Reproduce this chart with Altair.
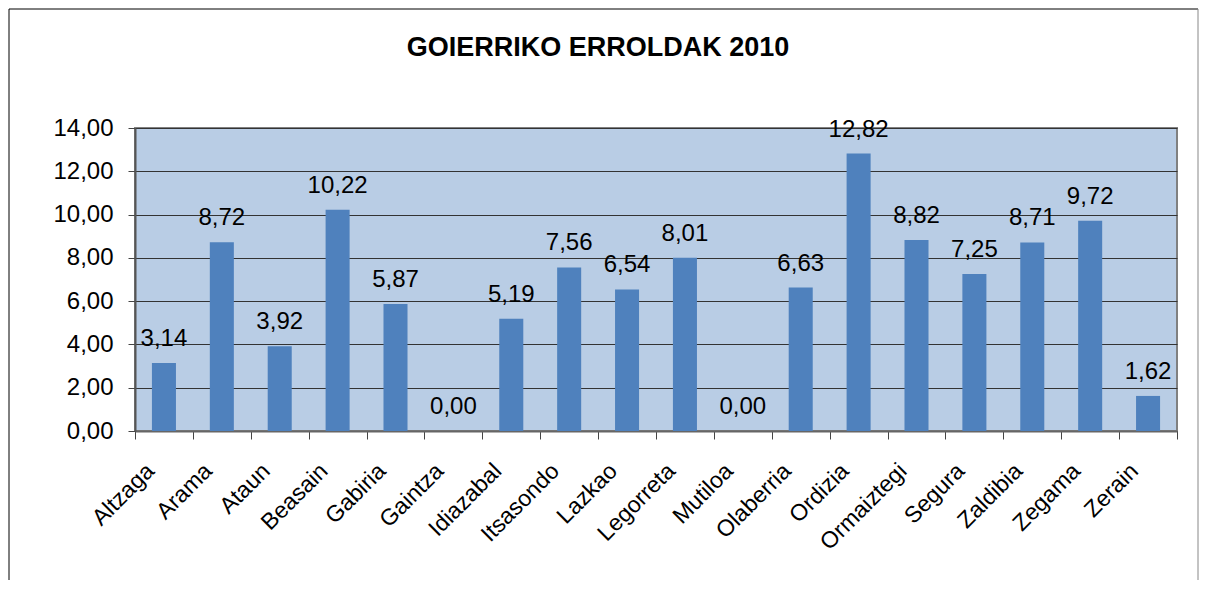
import altair as alt
import pandas as pd

towns = ["Altzaga", "Arama", "Ataun", "Beasain", "Gabiria", "Gaintza", "Idiazabal",
         "Itsasondo", "Lazkao", "Legorreta", "Mutiloa", "Olaberria", "Ordizia",
         "Ormaiztegi", "Segura", "Zaldibia", "Zegama", "Zerain"]
values = [3.14, 8.72, 3.92, 10.22, 5.87, 0.00, 5.19, 7.56, 6.54, 8.01, 0.00,
          6.63, 12.82, 8.82, 7.25, 8.71, 9.72, 1.62]
y_ticks = [0, 2, 4, 6, 8, 10, 12, 14]
title_text = "GOIERRIKO ERROLDAK 2010"

df = pd.DataFrame({"town": towns, "value": values})
df["label"] = [f"{v:.2f}".replace(".", ",") for v in values]

FONT = "Liberation Sans"
W, H = 1042, 303

x_enc = alt.X(
    "town:N", sort=towns,
    scale=alt.Scale(paddingInner=0, paddingOuter=0),
    axis=alt.Axis(title=None, labelAngle=-45, labelFontSize=23, labelPadding=33,
                  labelBaseline="alphabetic", labelAlign="right", labelOffset=-9,
                  tickSize=8, tickBand="extent", grid=False, labelColor="black",
                  labelFont=FONT, domainColor="#666666", domainWidth=2,
                  tickColor="#444444"),
)
y_enc = alt.Y(
    "value:Q",
    scale=alt.Scale(domain=[0, 14], nice=False),
    axis=alt.Axis(values=y_ticks, title=None,
                  labelExpr="replace(format(datum.value, '.2f'), '.', ',')",
                  grid=True, gridColor="#333333", gridWidth=1,
                  tickSize=7, tickColor="#444444", labelPadding=15,
                  labelFontSize=24, labelFont=FONT, labelColor="black",
                  domainColor="#555555", domainWidth=2),
)

base = alt.Chart(df)
bars = base.mark_bar(color="#4F81BD", width=alt.RelativeBandSize(0.415)).encode(x=x_enc, y=y_enc)
labels = base.mark_text(dy=-17, baseline="alphabetic", fontSize=24, font=FONT,
                        color="black").encode(x=x_enc, y=y_enc, text="label:N")

frame_src = alt.Chart(alt.Data(values=[{}]))
left_edge = frame_src.mark_rule(color="black", strokeWidth=1).encode(
    x=alt.value(-126), y=alt.value(-119), y2=alt.value(452))
top_edge = frame_src.mark_rule(color="black", strokeWidth=1).encode(
    x=alt.value(-126), x2=alt.value(1063), y=alt.value(-119))
right_edge = frame_src.mark_rule(color="#888888", strokeWidth=1).encode(
    x=alt.value(1063), y=alt.value(-119), y2=alt.value(452))

chart = alt.layer(bars, labels, left_edge, top_edge, right_edge).properties(
    width=W, height=H, padding=0,
    title=alt.TitleParams(title_text, fontSize=27, fontWeight="bold", font=FONT,
                          anchor="middle", frame="group", dx=-58, offset=-53,
                          color="black"),
).configure_view(fill="#B9CDE5", stroke="#808080", strokeWidth=2)

chart.save("out.html", embed_options={"renderer": "svg", "actions": False})
